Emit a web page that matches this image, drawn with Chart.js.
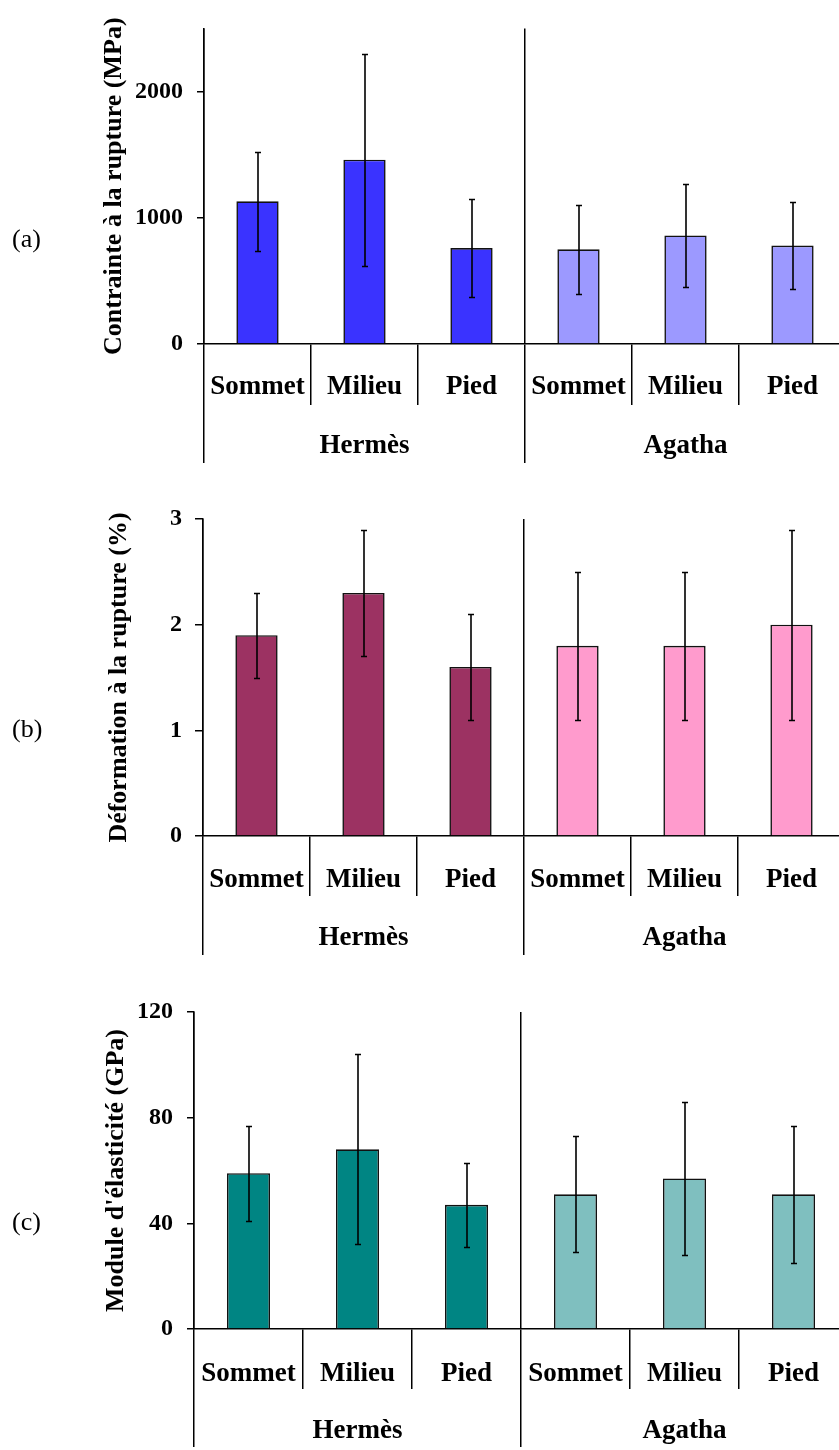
<!DOCTYPE html>
<html>
<head>
<meta charset="utf-8">
<script src="https://cdn.jsdelivr.net/npm/chart.js@4.4.1/dist/chart.umd.min.js"></script>
<style>
  html, body { margin: 0; padding: 0; background: #fff; width: 839px; height: 1450px; overflow: hidden; }
  .panel { position: absolute; left: 0; width: 850px; }
  canvas { display: block; }
</style>
</head>
<body>
<div class="panel" style="top:0px;height:480px"><canvas id="chartStress" width="850" height="480"></canvas></div>
<div class="panel" style="top:490px;height:480px"><canvas id="chartStrain" width="850" height="480"></canvas></div>
<div class="panel" style="top:980px;height:470px"><canvas id="chartModulus" width="850" height="470"></canvas></div>
<script>
// Sampling positions along the stem, repeated for each variety
const positions = ['Sommet', 'Milieu', 'Pied'];
const varieties = ['Hermès', 'Agatha'];

// (a) breaking stress, MPa: mean and standard deviation
const stressMean = [1130, 1460, 760, 750, 860, 780];
const stressErr  = [390, 840, 385, 355, 410, 345];
const stressTicks = [0, 1000, 2000];

// (b) strain at break, %
const strainMean = [1.9, 2.3, 1.6, 1.8, 1.8, 2.0];
const strainErr  = [0.4, 0.6, 0.5, 0.7, 0.7, 0.9];
const strainTicks = [0, 1, 2, 3];

// (c) Young's modulus, GPa
const modulusMean = [59, 68, 47, 51, 57, 51];
const modulusErr  = [18, 36, 16, 22, 29, 26];
const modulusTicks = [0, 40, 80, 120];

const categoryLabels = varieties.flatMap(() => positions);
const SERIF = "'Liberation Serif', 'DejaVu Serif', serif";

// Vertical error bars (mean ± sd) on top of each bar
const errorBars = {
  id: 'errorBars',
  afterDatasetsDraw(chart) {
    const ds = chart.data.datasets[0];
    const meta = chart.getDatasetMeta(0);
    const y = chart.scales.y;
    const ctx = chart.ctx;
    ctx.save();
    ctx.strokeStyle = '#000';
    ctx.lineWidth = 1.6;
    meta.data.forEach((bar, i) => {
      const v = ds.data[i], e = ds.errors[i];
      const yt = Math.round(y.getPixelForValue(v + e)) + 0.5;
      const yb = Math.round(y.getPixelForValue(v - e)) + 0.5;
      const x = Math.round(bar.x);
      ctx.beginPath();
      ctx.moveTo(x, yt); ctx.lineTo(x, yb);
      ctx.moveTo(x - 3, yt); ctx.lineTo(x + 3, yt);
      ctx.moveTo(x - 3, yb); ctx.lineTo(x + 3, yb);
      ctx.stroke();
    });
    ctx.restore();
  }
};

// Panel letter on the far left
const panelTag = {
  id: 'panelTag',
  afterDraw(chart, args, opts) {
    const ctx = chart.ctx;
    ctx.save();
    ctx.fillStyle = '#000';
    ctx.font = `26px ${SERIF}`;
    ctx.textAlign = 'left';
    ctx.textBaseline = 'middle';
    ctx.fillText(opts.text, 12, opts.y);
    ctx.restore();
  }
};

function makePanel(canvasId, cfg) {
  const L = cfg.layout;
  const labelFont = { family: SERIF, size: 27, weight: 'bold' };
  return new Chart(document.getElementById(canvasId), {
    type: 'bar',
    data: {
      labels: categoryLabels,
      datasets: [{
        data: cfg.values,
        errors: cfg.errors,
        backgroundColor: categoryLabels.map((_, i) => i < positions.length ? cfg.colors[0] : cfg.colors[1]),
        borderColor: '#111',
        borderWidth: 1.6,
        barPercentage: 0.395,
        categoryPercentage: 1
      }]
    },
    options: {
      responsive: false,
      animation: false,
      devicePixelRatio: 1,
      layout: { padding: { top: L.top, left: 0, right: L.right, bottom: L.bottom } },
      plugins: {
        legend: { display: false },
        tooltip: { enabled: false },
        panelTag: { text: cfg.tag, y: L.tagY }
      },
      scales: {
        y: {
          min: 0,
          max: cfg.ticks[cfg.ticks.length - 1] * cfg.topFactor,
          afterBuildTicks: s => { s.ticks = cfg.ticks.map(v => ({ value: v })); },
          afterFit: s => { s.width = L.axisX; },
          border: { display: true, color: '#000', width: 1.5 },
          grid: { drawOnChartArea: false, color: '#000', tickLength: L.tick, lineWidth: 1.5 },
          ticks: {
            color: '#000', padding: L.tickPad,
            font: { family: SERIF, size: 24, weight: 'bold' },
            callback: v => String(v)
          },
          title: {
            display: true, text: cfg.title, color: '#000',
            font: { family: SERIF, size: 26, weight: 'bold' },
            padding: { top: L.titlePad, bottom: 0 }
          }
        },
        x: {
          type: 'category',
          position: 'bottom',
          weight: 0,
          offset: true,
          afterFit: s => { s.height = L.catH; },
          border: { display: true, color: '#000', width: 1.5 },
          grid: { offset: true, drawOnChartArea: false, color: '#000', tickLength: L.catH, lineWidth: 1.5 },
          ticks: { color: '#000', padding: L.catPad, maxRotation: 0, autoSkip: false, font: labelFont }
        },
        x2: {
          type: 'category',
          labels: varieties,
          position: 'bottom',
          weight: 1,
          offset: true,
          afterFit: s => { s.height = L.grpH; },
          border: { display: false },
          grid: { offset: true, drawOnChartArea: true, color: '#000', tickLength: L.grpH, lineWidth: 1.5 },
          ticks: { color: '#000', padding: L.grpPad, maxRotation: 0, autoSkip: false, font: labelFont }
        }
      }
    },
    plugins: [errorBars, panelTag]
  });
}

makePanel('chartStress', {
  values: stressMean, errors: stressErr, ticks: stressTicks, topFactor: 1.25,
  colors: ['#3A33FF', '#9C99FF'],
  title: 'Contrainte à la rupture (MPa)', tag: '(a)',
  layout: { top: 28, right: 4, bottom: 17, axisX: 204, tick: 7, tickPad: 14, titlePad: 99,
            catH: 61, catPad: -34, grpH: 58, grpPad: -33, tagY: 240 }
});

makePanel('chartStrain', {
  values: strainMean, errors: strainErr, ticks: strainTicks, topFactor: 1,
  colors: ['#9C3262', '#FF9BCD'],
  title: 'Déformation à la rupture (%)', tag: '(b)',
  layout: { top: 29, right: 5, bottom: 15, axisX: 203, tick: 8, tickPad: 13, titlePad: 104,
            catH: 60, catPad: -32, grpH: 59, grpPad: -33, tagY: 240 }
});

makePanel('chartModulus', {
  values: modulusMean, errors: modulusErr, ticks: modulusTicks, topFactor: 1,
  colors: ['#008583', '#7FBFBF'],
  title: "Module d'élasticité (GPa)", tag: '(c)',
  layout: { top: 32, right: 2, bottom: 3, axisX: 194, tick: 7, tickPad: 14, titlePad: 101,
            catH: 60, catPad: -31, grpH: 58, grpPad: -32, tagY: 243 }
});
</script>
</body>
</html>
